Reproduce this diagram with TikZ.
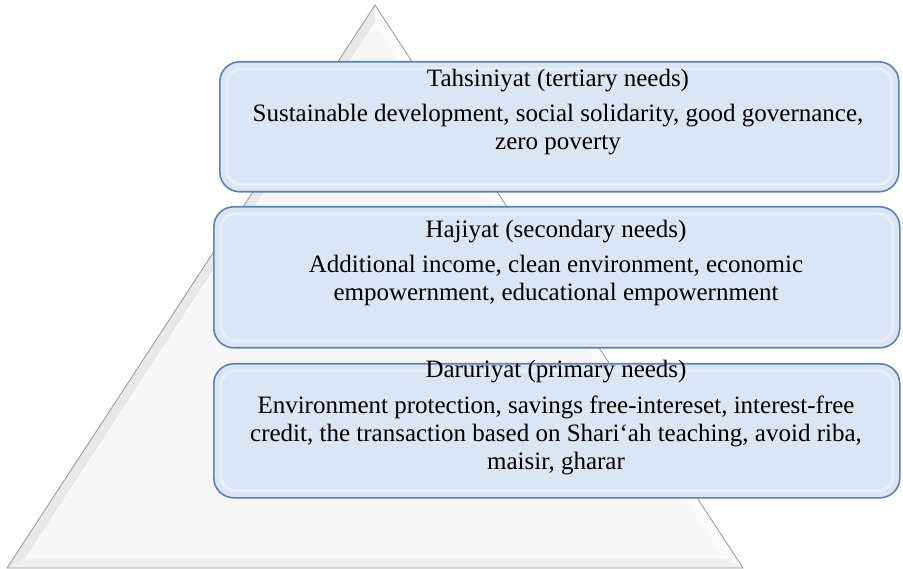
\documentclass[tikz,border=0pt]{standalone}
\usepackage{fontspec}
\setmainfont{Liberation Serif}
\usetikzlibrary{positioning}

\definecolor{boxfill}{RGB}{219,229,243}
\definecolor{boxline}{RGB}{86,131,190}
\definecolor{boxglow}{RGB}{232,239,250}
\definecolor{pyredge}{RGB}{150,150,150}

\tikzset{
  needbox/.style={draw=boxline, line width=1.6pt, fill=boxfill, rounded corners=20pt,
    inner sep=0pt, anchor=north west},
  glow/.style={draw=boxglow, line width=3pt, rounded corners=14pt},
  needtitle/.style={font=\fontsize{25}{28}\selectfont},
  needtext/.style={font=\fontsize{25}{28}\selectfont, align=center}
}

\begin{document}
\begin{tikzpicture}[x=1pt, y=-1pt]
    \useasboundingbox (0,0) rectangle (903,569);

    % Pyramid
    \coordinate (apex) at (375,5);
    \coordinate (baseL) at (7,568);
    \coordinate (baseR) at (743,568);
    \coordinate (inApex) at (375,23);
    \coordinate (inL) at (26,558);
    \coordinate (inR) at (724,558);
    \fill[gray!18] (apex) -- (baseL) -- (inL) -- (inApex) -- cycle;
    \fill[gray!3] (apex) -- (baseR) -- (inR) -- (inApex) -- cycle;
    \fill[gray!12] (baseL) -- (baseR) -- (inR) -- (inL) -- cycle;
    \fill[gray!6] (inApex) -- (inL) -- (inR) -- cycle;
    \draw[pyredge, line width=0.8pt] (apex) -- (baseL) -- (baseR) -- cycle;
    \draw[white, line width=0.6pt] (inApex) -- (inL) -- (inR) -- cycle;

    % Boxes
    \node[needbox, minimum width=679pt, minimum height=130pt] (tahsin) at (219,61) {};
    \node[needbox, minimum width=686pt, minimum height=141pt] (hajiy) at (213,206) {};
    \node[needbox, minimum width=686pt, minimum height=134pt] (darur) at (213,363) {};
    \foreach \b in {tahsin, hajiy, darur}
        \draw[glow] ([shift={(8pt,-8pt)}]\b.north west) rectangle ([shift={(-8pt,8pt)}]\b.south east);

    % Texts
    \node[needtitle] (tahsinT) at (558,81) {Tahsiniyat (tertiary needs)};
    \node[needtext, below=5pt of tahsinT] (tahsinB)
        {Sustainable development, social solidarity, good governance,\\zero poverty};

    \node[needtitle] (hajiyT) at (556,232) {Hajiyat (secondary needs)};
    \node[needtext, below=5pt of hajiyT] (hajiyB)
        {Additional income, clean environment, economic\\empowernment, educational empowernment};

    \node[needtitle] (darurT) at (556,372) {Daruriyat (primary needs)};
    \node[needtext, below=5pt of darurT] (darurB)
        {Environment protection, savings free-intereset, interest-free\\credit, the transaction based on Shari‘ah teaching, avoid riba,\\maisir, gharar};

\end{tikzpicture}
\end{document}
